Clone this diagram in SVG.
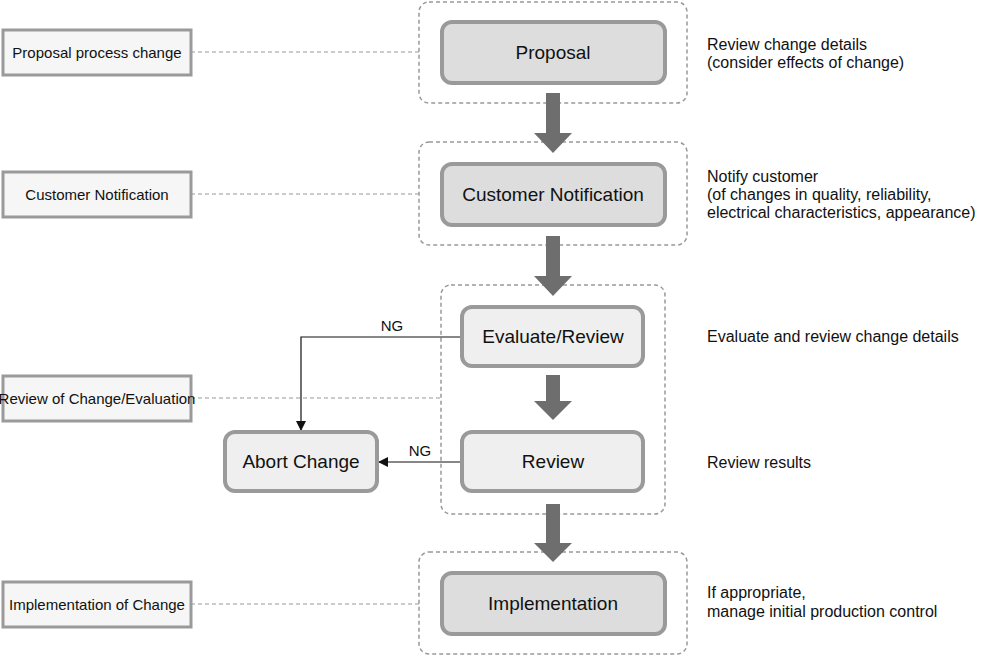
<svg xmlns="http://www.w3.org/2000/svg" width="1000" height="657" viewBox="0 0 1000 657">
<style>
text{font-family:"Liberation Sans",Arial,sans-serif;fill:#111}
.grp{fill:none;stroke:#999;stroke-width:1.5;stroke-dasharray:4 3}
.main{fill:#dcdddc;stroke:#9a9a9a;stroke-width:4}
.sub{fill:#eeefee;stroke:#9a9a9a;stroke-width:4}
.lab{fill:#f5f6f5;stroke:#9a9a9a;stroke-width:3}
.dl{stroke:#999;stroke-width:1.2;stroke-dasharray:4 3;fill:none}
.big{fill:#6e6e6e}
.nt{font-size:19px;text-anchor:middle}
.lt{font-size:15px;text-anchor:middle}
.rt{font-size:16px}
</style>
<defs><marker id="ah" markerWidth="10" markerHeight="10" refX="9" refY="5" orient="auto" markerUnits="userSpaceOnUse"><path d="M0,0 L10,5 L0,10 z" fill="#111"/></marker></defs>
<g id="groups">
<rect class="grp" x="419" y="2" width="268" height="101" rx="10"/>
<rect class="grp" x="419" y="142" width="268" height="103" rx="10"/>
<rect class="grp" x="441" y="285" width="224" height="229" rx="10"/>
<rect class="grp" x="419" y="552" width="268" height="102" rx="10"/>
</g>
<g id="connectors">
<path class="dl" d="M191,52H419M191,194H419M191,398H441M191,604H419"/>
<path class="big" d="M546,93h14v40h12l-19,20l-19,-20h12z"/>
<path class="big" d="M546,236h14v40h12l-19,20l-19,-20h12z"/>
<path class="big" d="M546,375h14v26h12l-19,19l-19,-19h12z"/>
<path class="big" d="M546,504h14v39h12l-19,19l-19,-19h12z"/>
<path d="M462,337H301V430" fill="none" stroke="#111" stroke-width="1.2" marker-end="url(#ah)"/>
<path d="M462,462H379" fill="none" stroke="#111" stroke-width="1.2" marker-end="url(#ah)"/>
<text x="392" y="331" font-size="15" text-anchor="middle">NG</text>
<text x="420" y="456" font-size="15" text-anchor="middle">NG</text>
</g>
<g id="proposal"><rect class="main" x="442" y="22" width="223" height="61" rx="10"/><text class="nt" x="553" y="59">Proposal</text></g>
<g id="notification"><rect class="main" x="442" y="164" width="223" height="61" rx="10"/><text class="nt" x="553" y="201">Customer Notification</text></g>
<g id="evaluate"><rect class="sub" x="462" y="307" width="181" height="59" rx="10"/><text class="nt" x="553" y="343">Evaluate/Review</text></g>
<g id="review"><rect class="sub" x="462" y="432" width="181" height="59" rx="10"/><text class="nt" x="553" y="468">Review</text></g>
<g id="abort"><rect class="sub" x="225" y="432" width="152" height="59" rx="10"/><text class="nt" x="301" y="468">Abort Change</text></g>
<g id="implementation"><rect class="main" x="442" y="573" width="223" height="61" rx="10"/><text class="nt" x="553" y="610">Implementation</text></g>
<g id="lab1"><rect class="lab" x="3" y="30" width="188" height="45"/><text class="lt" x="97" y="58">Proposal process change</text></g>
<g id="lab2"><rect class="lab" x="3" y="172" width="188" height="45"/><text class="lt" x="97" y="200">Customer Notification</text></g>
<g id="lab3"><rect class="lab" x="3" y="376" width="188" height="45"/><text class="lt" x="97" y="404" font-size="14">Review of Change/Evaluation</text></g>
<g id="lab4"><rect class="lab" x="3" y="582" width="188" height="45"/><text class="lt" x="97" y="610">Implementation of Change</text></g>
<g id="notes">
<text class="rt" x="707" y="50">Review change details</text>
<text class="rt" x="707" y="68" font-size="14">(consider effects of change)</text>
<text class="rt" x="707" y="182">Notify customer</text>
<text class="rt" x="707" y="200" font-size="14">(of changes in quality, reliability,</text>
<text class="rt" x="707" y="218" font-size="14">electrical characteristics, appearance)</text>
<text class="rt" x="707" y="342">Evaluate and review change details</text>
<text class="rt" x="707" y="468">Review results</text>
<text class="rt" x="707" y="598">If appropriate,</text>
<text class="rt" x="707" y="617">manage initial production control</text>
</g>
</svg>
